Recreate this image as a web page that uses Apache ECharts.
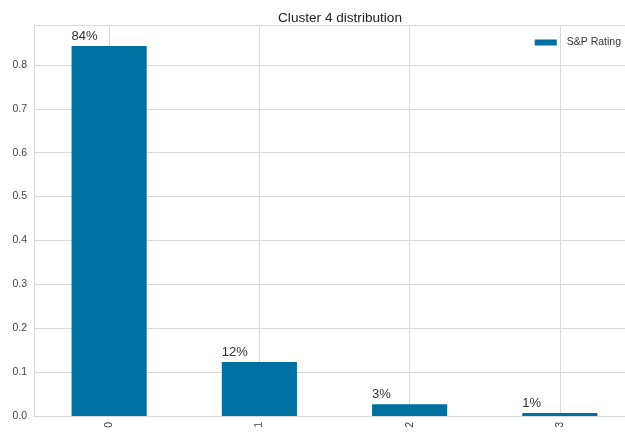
<!DOCTYPE html>
<html><head><meta charset="utf-8">
<script src="https://cdn.jsdelivr.net/npm/echarts@6/dist/echarts.min.js"></script>
<style>html,body{margin:0;padding:0;background:#fff}#c{width:625px;height:432px}</style>
</head><body><div id="c"></div>
<script>
const categories = ['0','1','2','3'];
const values = [0.843, 0.123, 0.027, 0.007];
const seriesName = 'S&P Rating';
const titleText = 'Cluster 4 distribution';
const yMax = 0.891;

const chart = echarts.init(document.getElementById('c'), null, {renderer:'canvas'});
const FF = '"Liberation Sans", Arial, sans-serif';
const GRID = '#d9d9d9';
chart.setOption({
  animation:false,
  backgroundColor:'#fff',
  title:{text:titleText,left:335,top:6,textAlign:'center',
    textStyle:{fontFamily:FF,fontSize:13.6,fontWeight:'normal',color:'#222'}},
  legend:{data:[seriesName],right:4,top:37,padding:0,icon:'rect',itemWidth:22,itemHeight:6,itemGap:6,
    textStyle:{fontFamily:FF,fontSize:10.5,color:'#333',padding:[0,0,0,5]}},
  grid:{left:34,top:25,right:-10,bottom:16,outerBoundsMode:'none',containLabel:false,show:false},
  xAxis:{type:'category',data:categories,
    axisLine:{show:true,lineStyle:{color:GRID}},axisTick:{show:false,alignWithLabel:true},
    splitLine:{show:true,interval:0,alignWithLabel:true,lineStyle:{color:GRID}},
    axisLabel:{rotate:90,fontFamily:FF,fontSize:10.5,color:'#444',margin:6}},
  yAxis:{type:'value',min:0,max:yMax,interval:0.1,
    axisLine:{show:true,lineStyle:{color:GRID}},axisTick:{show:false},
    splitLine:{show:true,lineStyle:{color:GRID}},
    axisLabel:{fontFamily:FF,fontSize:10.5,color:'#444',margin:7,showMaxLabel:false,
      formatter:v=>v.toFixed(1)}},
  series:[{name:seriesName,type:'bar',data:values,barWidth:'50%',
    itemStyle:{color:'#0070a0'},
    label:{show:true,position:[0,-16],fontFamily:FF,fontSize:13,color:'#333',
      formatter:p=>Math.round(p.value*100)+'%'}}]
});
</script></body></html>
